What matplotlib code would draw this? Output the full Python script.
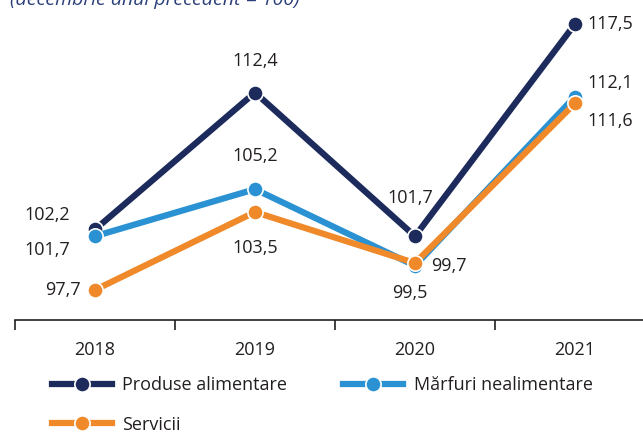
import matplotlib.pyplot as plt
from matplotlib.lines import Line2D

plt.rcParams['font.family'] = ['Open Sans', 'DejaVu Sans']

years = ['2018', '2019', '2020', '2021']
alimentare = [102.2, 112.4, 101.7, 117.5]
nealimentare = [101.7, 105.2, 99.5, 112.1]
servicii = [97.7, 103.5, 99.7, 111.6]
names = ['Produse alimentare', 'Mărfuri nealimentare', 'Servicii']

c_dark = '#1c2b5c'
c_blue = '#2a92d2'
c_orange = '#f0892a'
c_text = '#231f20'

fig = plt.figure(figsize=(6.43, 4.34), dpi=100)
ax = fig.add_axes([15 / 643, 114 / 434, 640 / 643, 320 / 434])

x = range(len(years))
for vals, col in [(alimentare, c_dark), (nealimentare, c_blue), (servicii, c_orange)]:
    ax.plot(x, vals, color=col, lw=4.5, marker='o', ms=11,
            mfc=col, mec='white', mew=1.2, solid_capstyle='butt', zorder=3)

ax.set_xlim(-0.5, 3.5)
ax.set_ylim(95.46, 119.29)

def fmt(v):
    return ('%.1f' % v).replace('.', ',')

# labels: (series, index, dx px, dy px, ha)
labels = [
    (alimentare, 0, -25, 14, 'right'), (nealimentare, 0, -25, -14, 'right'),
    (servicii, 0, -14, 0, 'right'),
    (alimentare, 1, 0, 32, 'center'), (nealimentare, 1, 0, 33, 'center'),
    (servicii, 1, 0, -36, 'center'),
    (alimentare, 2, -5, 38, 'center'), (nealimentare, 2, -5, -27, 'center'),
    (servicii, 2, 16, -3, 'left'),
    (alimentare, 3, 12, 0, 'left'), (nealimentare, 3, 12, 14, 'left'),
    (servicii, 3, 12, -18, 'left'),
]
for s, i, dx, dy, ha in labels:
    ax.annotate(fmt(s[i]), (i, s[i]), xytext=(dx * 0.72, dy * 0.72),
                textcoords='offset points', ha=ha, va='center',
                fontsize=13, color=c_text, zorder=5)

for sp in ['top', 'right', 'left']:
    ax.spines[sp].set_visible(False)
ax.spines['bottom'].set_color(c_text)
ax.spines['bottom'].set_linewidth(1.2)
ax.set_yticks([])
ax.set_xticks([-0.5, 0.5, 1.5, 2.5])
ax.set_xticklabels([])
ax.tick_params(axis='x', which='major', length=7, width=1.2, color=c_text)
ax.set_xticks(list(x), minor=True)
ax.set_xticklabels(years, minor=True)
ax.tick_params(axis='x', which='minor', length=0, pad=15, labelsize=13,
               labelcolor=c_text)

fig.text(10 / 643, 1 - 5 / 434, '(decembrie anul precedent = 100)',
         fontsize=14, style='italic', color='#2b3f7a', va='baseline')

handles = [Line2D([], [], color=c, lw=4.5, marker='o', ms=11, mfc=c,
                  mec='white', mew=1.2) for c in (c_dark, c_blue, c_orange)]
# column-major fill: put Servicii under Produse alimentare
order = [0, 2, 1]
fig.legend([handles[k] for k in order], [names[k] for k in order],
           loc='upper left', bbox_to_anchor=(43 / 643, 1 - 367 / 434),
           ncol=2, frameon=False, fontsize=13, handlelength=3.3,
           handletextpad=0.6, columnspacing=3.1, labelspacing=1.2,
           labelcolor=c_text, borderpad=0)

fig.savefig('out.png', dpi=100)
